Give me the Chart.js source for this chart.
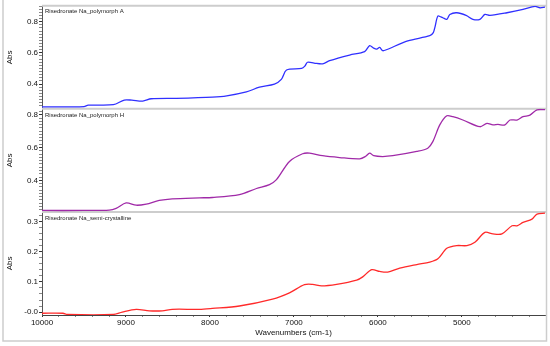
<!DOCTYPE html>
<html>
<head>
<meta charset="utf-8">
<script src="https://cdn.jsdelivr.net/npm/chart.js@4.4.1/dist/chart.umd.min.js"></script>
<style>
  html, body { margin: 0; padding: 0; background: #fff; }
</style>
</head>
<body>
<canvas id="nir" width="550" height="346"></canvas>
<script>
// wavenumbers (cm-1) and absorbance
const wnA = [10000, 9500, 9450, 9150, 9020, 8930, 8800, 8700, 8400, 7970, 7800, 7566, 7410, 7232, 7150, 7088, 6909, 6870, 6838, 6760, 6659, 6575, 6337, 6158, 6098, 6050, 6014, 5979, 5943, 5900, 5644, 5382, 5340, 5322, 5286, 5250, 5227, 5179, 5143, 5060, 4950, 4869, 4785, 4726, 4666, 4463, 4272, 4129, 4069, 4010];
const absA = [0.254, 0.256, 0.265, 0.268, 0.298, 0.297, 0.291, 0.306, 0.309, 0.317, 0.325, 0.350, 0.380, 0.400, 0.430, 0.490, 0.500, 0.515, 0.540, 0.535, 0.530, 0.550, 0.586, 0.608, 0.646, 0.630, 0.624, 0.635, 0.614, 0.620, 0.677, 0.710, 0.730, 0.762, 0.836, 0.830, 0.825, 0.815, 0.846, 0.857, 0.840, 0.815, 0.815, 0.846, 0.840, 0.857, 0.878, 0.898, 0.889, 0.893];

const wnH = [10000, 9500, 9200, 9117, 8998, 8878, 8759, 8604, 8449, 8126, 7971, 7649, 7446, 7291, 7208, 7053, 6897, 6814, 6659, 6456, 6217, 6150, 6098, 6050, 5943, 5823, 5537, 5406, 5346, 5263, 5179, 5107, 4988, 4785, 4702, 4630, 4570, 4487, 4427, 4344, 4272, 4189, 4105, 4010];
const absH = [0.216, 0.216, 0.218, 0.229, 0.262, 0.248, 0.255, 0.277, 0.287, 0.293, 0.295, 0.313, 0.350, 0.374, 0.404, 0.515, 0.562, 0.566, 0.550, 0.539, 0.531, 0.545, 0.566, 0.550, 0.545, 0.550, 0.576, 0.596, 0.636, 0.738, 0.794, 0.788, 0.768, 0.727, 0.747, 0.738, 0.741, 0.738, 0.768, 0.768, 0.788, 0.798, 0.830, 0.831];

const wnS = [10000, 9750, 9700, 9150, 9045, 8878, 8723, 8568, 8449, 8126, 7971, 7649, 7255, 7053, 6874, 6778, 6671, 6492, 6253, 6181, 6074, 5979, 5883, 5740, 5537, 5382, 5286, 5179, 5060, 4940, 4845, 4726, 4630, 4523, 4403, 4344, 4272, 4165, 4105, 4010];
const absS = [-0.004, -0.004, -0.008, -0.008, 0.000, 0.009, 0.004, 0.004, 0.009, 0.009, 0.012, 0.020, 0.043, 0.064, 0.091, 0.092, 0.087, 0.092, 0.106, 0.117, 0.141, 0.135, 0.133, 0.146, 0.158, 0.166, 0.177, 0.212, 0.221, 0.221, 0.232, 0.265, 0.260, 0.260, 0.287, 0.287, 0.298, 0.309, 0.326, 0.329];

const panelNames = ['Risedronate Na_polymorph A', 'Risedronate Na_polymorph H', 'Risedronate Na_semi-crystalline'];
const lineColors = ['#3030ff', '#a02aa8', '#ff2a2a'];

const xLabels = [10000, 9000, 8000, 7000, 6000, 5000];
const yLabelsA = [0.4, 0.6, 0.8];
const yLabelsH = [0.4, 0.6, 0.8];
const yLabelsS = [0.0, 0.1, 0.2, 0.3];

const pts = (xs, ys) => xs.map((x, i) => ({ x: x, y: ys[i] }));
const steps = (from, to, step) => {
    const out = [];
    for (let v = from; v <= to + step / 2; v += step) out.push(Math.round(v * 1000) / 1000);
    return out;
};
const isIn = (list, v) => list.some(m => Math.abs(m - v) < 1e-6);

function yAxis(min, max, labels, minorFrom, minorTo, fmt) {
    return {
        type: 'linear',
        position: 'left',
        stack: 'panels',
        stackWeight: 1,
        min: min,
        max: max,
        border: { color: '#555', width: 1 },
        grid: {
            drawOnChartArea: false,
            tickLength: 3,
            tickColor: (c) => isIn(labels, c.tick.value) ? '#333' : '#888'
        },
        ticks: {
            autoSkip: false,
            padding: 1,
            color: '#111',
            font: { size: 8 },
            callback: (v) => isIn(labels, v) ? fmt(v) : ''
        },
        afterBuildTicks: (s) => { s.ticks = steps(minorFrom, minorTo, 0.02).map(v => ({ value: v })); },
        afterFit: (s) => { s.width = 42; },
        title: { display: true, text: 'Abs', color: '#111', font: { size: 8 }, padding: { top: 5, bottom: 0 } }
    };
}

const panelDecor = {
    id: 'panelDecor',
    beforeDatasetsDraw(chart) {
        const { ctx, chartArea } = chart;
        ctx.save();
        ['yA', 'yH', 'yS'].forEach((id, i) => {
            const s = chart.scales[id];
            ctx.strokeStyle = '#cdcdcd';
            ctx.lineWidth = 2;
            ctx.beginPath();
            ctx.moveTo(chartArea.left, s.top);
            ctx.lineTo(chartArea.right + 2, s.top);
            ctx.stroke();
            ctx.fillStyle = '#222';
            ctx.font = '6px "Liberation Sans", Arial, sans-serif';
            ctx.textBaseline = 'middle';
            ctx.fillText(panelNames[i], chartArea.left + 3, s.top + 6);
        });
        ctx.restore();
    },
    afterDraw(chart) {
        const { ctx } = chart;
        ctx.save();
        ctx.strokeStyle = '#cdcdcd';
        ctx.lineWidth = 1.5;
        ctx.beginPath();
        ctx.moveTo(3, 0);
        ctx.lineTo(3, chart.height - 5);
        ctx.lineTo(chart.width - 3.5, chart.height - 5);
        ctx.lineTo(chart.width - 3.5, 0);
        ctx.stroke();
        ctx.restore();
    }
};

Chart.defaults.font.family = '"Liberation Sans", Arial, sans-serif';

const ctx = document.getElementById('nir').getContext('2d');
new Chart(ctx, {
    type: 'line',
    data: {
        datasets: [
            { label: panelNames[0], data: pts(wnA, absA), yAxisID: 'yA', borderColor: lineColors[0] },
            { label: panelNames[1], data: pts(wnH, absH), yAxisID: 'yH', borderColor: lineColors[1] },
            { label: panelNames[2], data: pts(wnS, absS), yAxisID: 'yS', borderColor: lineColors[2] }
        ]
    },
    options: {
        responsive: false,
        animation: false,
        devicePixelRatio: 1,
        layout: { padding: { left: 0, top: 3, right: 5, bottom: 8 } },
        elements: {
            point: { radius: 0 },
            line: { borderWidth: 1.3, tension: 0.3, fill: false }
        },
        plugins: { legend: { display: false }, tooltip: { enabled: false } },
        scales: {
            x: {
                type: 'linear',
                position: 'bottom',
                reverse: true,
                min: 4010,
                max: 10000,
                border: { color: '#444', width: 1 },
                grid: {
                    drawOnChartArea: false,
                    tickLength: 2,
                    tickColor: (c) => isIn(xLabels, c.tick.value) ? '#333' : '#888'
                },
                ticks: {
                    autoSkip: false,
                    maxRotation: 0,
                    padding: 1,
                    color: '#111',
                    font: { size: 8 },
                    callback: (v) => isIn(xLabels, v) ? String(v) : ''
                },
                afterBuildTicks: (s) => { s.ticks = steps(4200, 10000, 200).map(v => ({ value: v })); },
                afterFit: (s) => { s.height = 23; },
                title: { display: true, text: 'Wavenumbers (cm-1)', color: '#111', font: { size: 8 }, padding: { top: 0, bottom: 0 } }
            },
            yS: yAxis(-0.0099, 0.333, yLabelsS, 0, 0.32, (v) => Math.abs(v) < 1e-6 ? '-0.0' : v.toFixed(1)),
            yH: yAxis(0.207, 0.836, yLabelsH, 0.22, 0.82, (v) => v.toFixed(1)),
            yA: yAxis(0.2413, 0.9016, yLabelsA, 0.26, 0.90, (v) => v.toFixed(1))
        }
    },
    plugins: [panelDecor]
});
</script>
</body>
</html>
